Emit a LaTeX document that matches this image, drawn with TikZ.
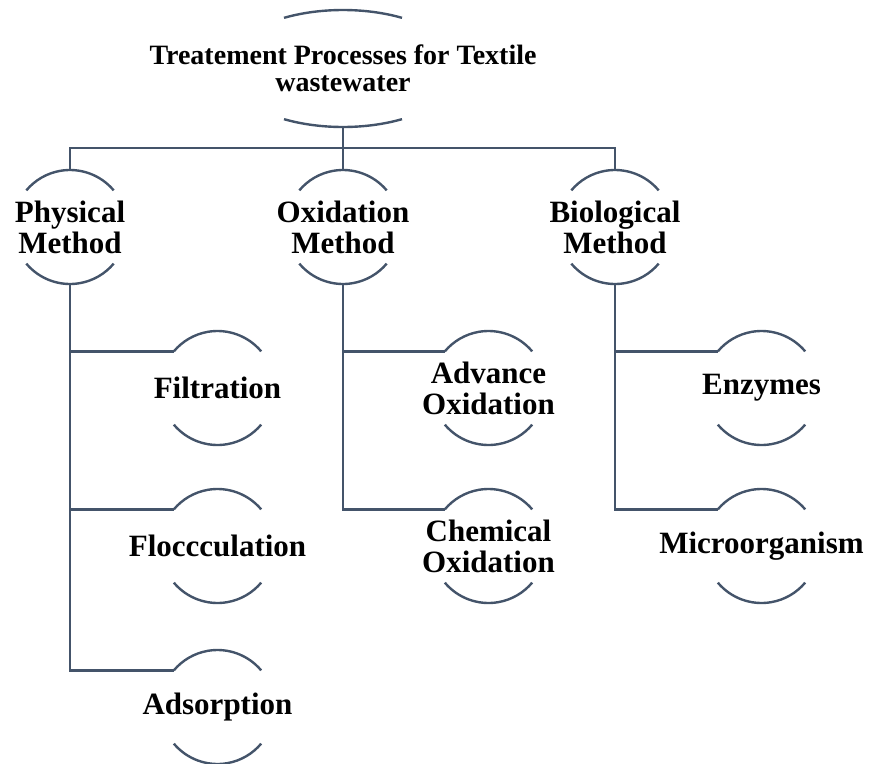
\documentclass[tikz,border=0pt]{standalone}
\usepackage{fontspec}
\setmainfont{Liberation Serif}
\usetikzlibrary{positioning,calc}
\definecolor{slate}{HTML}{44546A}

\begin{document}
\begin{tikzpicture}[
  x=1pt, y=1pt,
  link/.style={draw=slate,line width=2.4pt},
  rim/.style={draw=slate,line width=2.4pt},
  head/.style={font=\bfseries\fontsize{28}{27}\selectfont,align=center,minimum height=117pt,inner sep=0pt},
  meth/.style={font=\bfseries\fontsize{31}{31}\selectfont,align=center,minimum height=114pt,inner sep=0pt}
]
\useasboundingbox (0,0) rectangle (870,-763);
% top and the three methods
\node[head] (root) at (343,-68.5) {Treatement Processes for Textile\\wastewater};
\node[meth] (phys) at (70,-227) {Physical\\Method};
\node[meth] (oxid) at (343,-227) {Oxidation\\Method};
\node[meth] (bio) at (615,-227) {Biological\\Method};
% processes
\node[meth] (filt) at (217.5,-388) {Filtration};
\node[meth] (floc) at (217.5,-546) {Floccculation};
\node[meth] (adso) at (217.5,-707) {Adsorption};
\node[meth] (aop) at (488.5,-388) {Advance\\Oxidation};
\node[meth] (chem) at (488.5,-546) {Chemical\\Oxidation};
\node[meth] (enz) at (761.5,-388) {Enzymes};
\node[meth] (micro) at (761.5,-546) {Microorganism};
% arcs
\draw[rim] ([shift={(59,50.66)}]root.center) arc[start angle=60,end angle=120,x radius=118,y radius=58.5];
\draw[rim] ([shift={(-59,-50.66)}]root.center) arc[start angle=240,end angle=300,x radius=118,y radius=58.5];
\foreach \n in {phys,oxid,bio,filt,floc,adso,aop,chem,enz,micro}{
  \draw[rim] ([shift={(40:57)}]\n.center) arc[start angle=40,end angle=140,radius=57];
  \draw[rim] ([shift={(220:57)}]\n.center) arc[start angle=220,end angle=320,radius=57];
}
% connectors
\draw[link] (root.south) -- ++(0,-21) coordinate (bus);
\draw[link] (phys.north) |- (bus) -| (bio.north);
\draw[link] (bus) -- (oxid.north);
\foreach \p/\c in {phys/filt,phys/floc,phys/adso,oxid/aop,oxid/chem,bio/enz,bio/micro}
  \draw[link] (\p.south) |- ([shift={(140:57)}]\c.center);
\end{tikzpicture}
\end{document}
